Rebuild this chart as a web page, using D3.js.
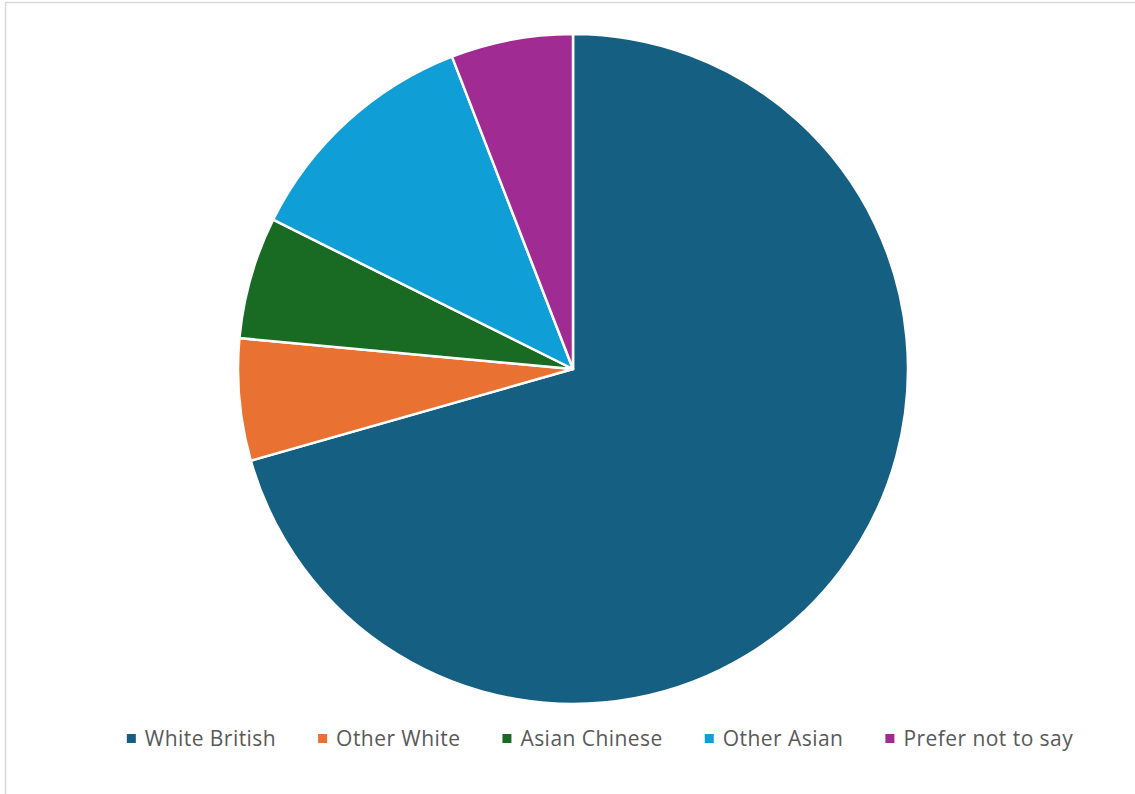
<!DOCTYPE html>
<html>
<head>
<meta charset="utf-8">
<script src="https://cdn.jsdelivr.net/npm/d3@7"></script>
<style>
  html, body { margin: 0; padding: 0; background: #fff; }
  svg { display: block; }
</style>
</head>
<body>
<svg id="chart" width="1135" height="794"></svg>
<script>
// Respondent ethnicity breakdown
const categories = ["White British", "Other White", "Asian Chinese", "Other Asian", "Prefer not to say"];
const counts = [12, 1, 1, 2, 1];
const colors = ["#156082", "#E97132", "#196B24", "#0F9ED5", "#A02B93"];

const svg = d3.select("#chart");
const W = 1135, H = 794;

// chart area frame
svg.append("rect")
  .attr("x", 5.5).attr("y", 2.5)
  .attr("width", W + 10).attr("height", H + 10)
  .attr("fill", "#fff")
  .attr("stroke", "#d9d9d9")
  .attr("stroke-width", 1.5);

const cx = 573, cy = 369, radius = 335;

const data = categories.map((c, i) => ({ name: c, value: counts[i], color: colors[i] }));

const pie = d3.pie().value(d => d.value).sort(null);
const arc = d3.arc().innerRadius(0).outerRadius(radius);

svg.append("g")
  .attr("transform", `translate(${cx},${cy})`)
  .selectAll("path")
  .data(pie(data))
  .join("path")
  .attr("d", arc)
  .attr("fill", d => d.data.color)
  .attr("stroke", "#fff")
  .attr("stroke-width", 2.5)
  .attr("stroke-linejoin", "round");

// legend, centred below the pie
const legend = svg.append("g").attr("font-family", "'Open Sans', sans-serif")
  .attr("font-size", 21).attr("letter-spacing", 0.45).attr("fill", "#595959");
const items = legend.selectAll("g").data(data).join("g");
items.append("rect")
  .attr("width", 9).attr("height", 9)
  .attr("y", -12)
  .attr("fill", d => d.color);
items.append("text")
  .attr("x", 18)
  .attr("y", 0)
  .text(d => d.name);

const gap = 42;
let widths = [];
items.each(function () {
  widths.push(18 + d3.select(this).select("text").node().getComputedTextLength());
});
const total = d3.sum(widths) + gap * (widths.length - 1);
let x = 600 - total / 2;
items.each(function (d, i) {
  d3.select(this).attr("transform", `translate(${x},746)`);
  x += widths[i] + gap;
});
</script>
</body>
</html>
